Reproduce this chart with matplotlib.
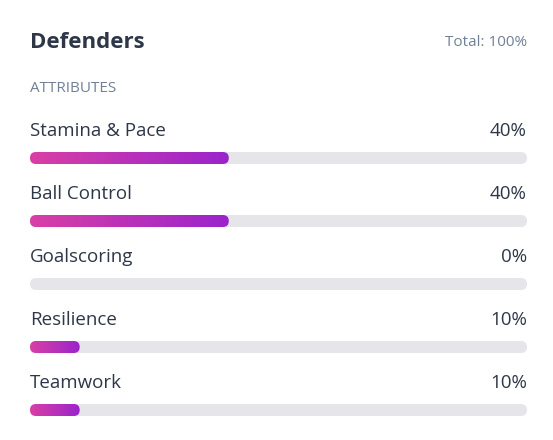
import numpy as np
import matplotlib.pyplot as plt
from matplotlib.patches import FancyBboxPatch
from matplotlib.colors import LinearSegmentedColormap

title = "Defenders"
total_label = "Total: 100%"
section = "ATTRIBUTES"
attributes = ["Stamina & Pace", "Ball Control", "Goalscoring", "Resilience", "Teamwork"]
values = [40, 40, 0, 10, 10]

plt.rcParams['font.family'] = ['Open Sans', 'DejaVu Sans']

fig = plt.figure(figsize=(5.53, 4.40), dpi=100)
ax = fig.add_axes([0, 0, 1, 1])
ax.set_xlim(0, 553)
ax.set_ylim(440, 0)
ax.axis('off')

left, right = 30, 527
track_w = right - left
bar_h = 12
cmap = LinearSegmentedColormap.from_list('pp', ['#d93fa6', '#9a24cc'])
grad = np.linspace(0, 1, 256).reshape(1, -1)

ax.text(left, 42, title, fontsize=16, fontweight='bold', color='#2d3748', va='center')
ax.text(right, 42, total_label, fontsize=11, color='#718096', va='center', ha='right')
ax.text(left, 89, section, fontsize=11, color='#718096', va='center')

for i, (name, v) in enumerate(zip(attributes, values)):
    ly = 131 + i * 63
    by = 158 + i * 63
    ax.text(left, ly, name, fontsize=13.5, color='#2d3748', va='center')
    ax.text(right, ly, f"{v}%", fontsize=13.5, color='#2d3748', va='center', ha='right')
    r = bar_h / 2
    track = FancyBboxPatch((left + r, by), track_w - 2 * r, 0,
                           boxstyle=f"round,pad={r}", fc='#e6e6ea', ec='none')
    ax.add_patch(track)
    w = track_w * v / 100
    if w > 0:
        fill = FancyBboxPatch((left + r, by), max(w - 2 * r, 0), 0,
                              boxstyle=f"round,pad={r}", fc='none', ec='none')
        ax.add_patch(fill)
        im = ax.imshow(grad, cmap=cmap, extent=[left, left + w, by + r, by - r],
                       aspect='auto', zorder=3)
        im.set_clip_path(fill)

ax.set_xlim(0, 553)
ax.set_ylim(440, 0)
fig.savefig('out.png', dpi=100)
